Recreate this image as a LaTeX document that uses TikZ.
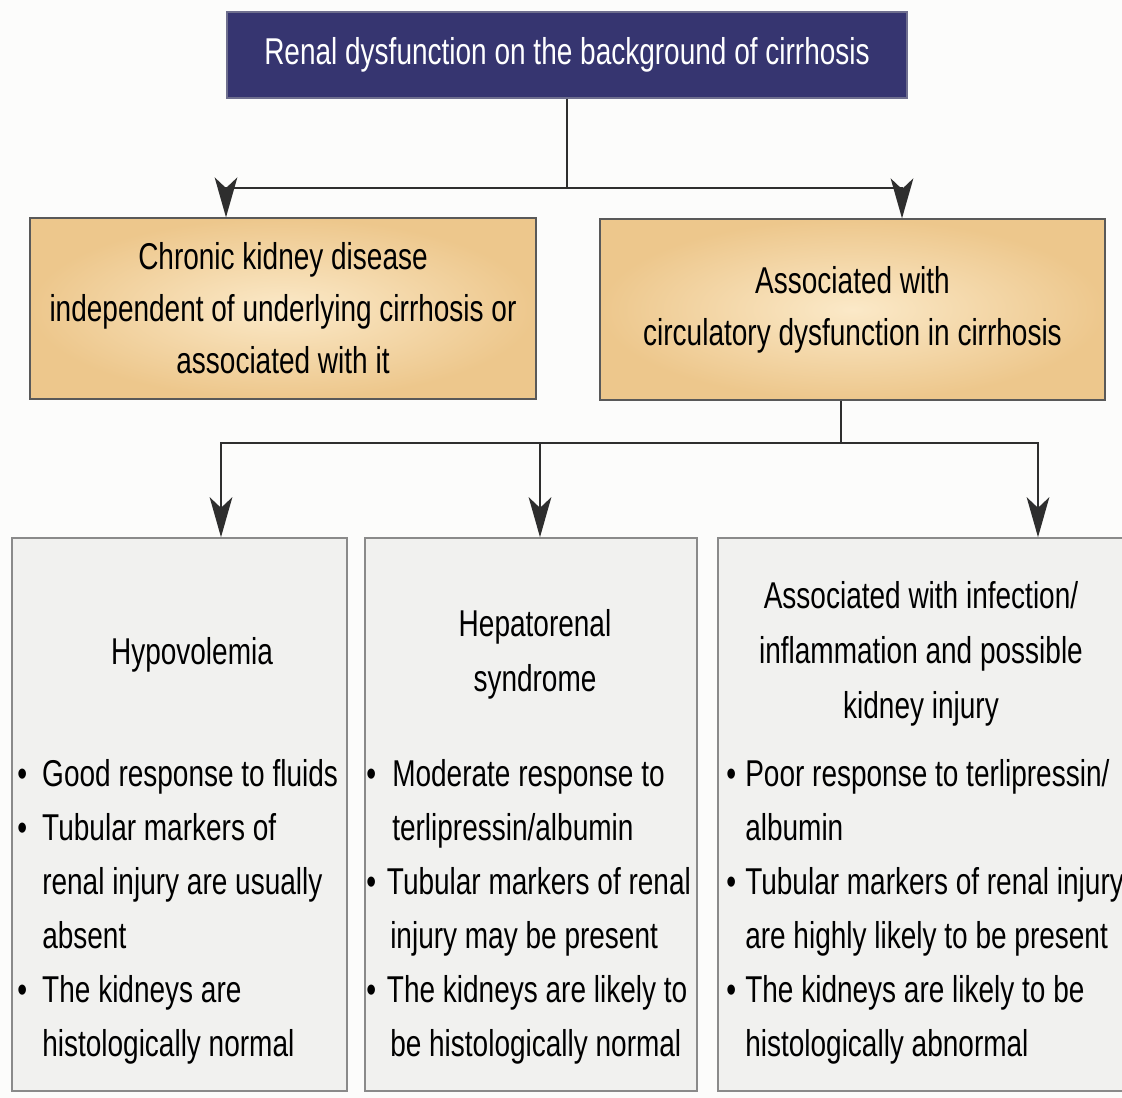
\documentclass[tikz,border=0pt]{standalone}
\usepackage{fontspec}
\setmainfont{Liberation Sans}[FakeStretch=0.75]
\usetikzlibrary{arrows.meta,calc}
\definecolor{navy}{HTML}{363570}
\definecolor{navyedge}{HTML}{6F6F8E}
\definecolor{tanin}{HTML}{FBE9C8}
\definecolor{tanout}{HTML}{EDC78C}
\definecolor{boxgrey}{HTML}{F1F1EF}
\definecolor{boxedge}{HTML}{8A8A8A}
\definecolor{linegrey}{HTML}{2E2E2E}
\definecolor{paper}{HTML}{FCFCFB}
\newcommand\bi[1]{\makebox[#1][l]{\textbullet}}
\newcommand\bc[1]{\hspace*{#1}}
\begin{document}
\begin{tikzpicture}[x=0.75pt,y=-0.75pt,
  topbox/.style={draw=navyedge, line width=1pt, fill=navy, text=white, inner sep=0pt,
    font=\fontsize{28}{34}\selectfont},
  tanbox/.style={draw=black!65, line width=0.9pt, shading=radial, inner color=tanin,
    outer color=tanout, align=center, inner sep=0pt, font=\fontsize{28}{39}\selectfont},
  greybox/.style={draw=boxedge, line width=1.2pt, fill=boxgrey, inner sep=0pt},
  head/.style={align=center, inner sep=0pt, font=\fontsize{28}{41.25}\selectfont},
  bullets/.style={anchor=base west, inner sep=0pt, font=\fontsize{28}{40.5}\selectfont},
  conn/.style={draw=linegrey, line width=1.5pt},
  arr/.style={conn, -{Stealth[length=30pt,width=17pt,inset=8pt]}}]
\fill[paper] (0,0) rectangle (1122,1098);
\useasboundingbox (0,0) rectangle (1122,1098);

\node[topbox, minimum width=510pt, minimum height=64.5pt] (top) at (567,55)
  {Renal dysfunction on the background of cirrhosis};

\node[tanbox, minimum width=379.5pt, minimum height=135.75pt] (ckd) at (283,308.5)
  {Chronic kidney disease\\independent of underlying cirrhosis or\\associated with it};
\node[tanbox, minimum width=378.75pt, minimum height=135.75pt] (assoc) at (852.5,309.5)
  {Associated with\\circulatory dysfunction in cirrhosis};

\node[greybox, minimum width=251.25pt, minimum height=414.75pt] (b1) at (179.5,814.5) {};
\node[greybox, minimum width=249pt, minimum height=414.75pt] (b2) at (531,814.5) {};
\node[greybox, minimum width=316.5pt, minimum height=414.75pt] (b3) at (929,814.5) {};

\node[head] (h1) at (192,655) {Hypovolemia};
\node[head] (h2) at (535,654) {Hepatorenal\\syndrome};
\node[head] (h3) at (921,654) {Associated with infection/\\inflammation and possible\\kidney injury};

\node[bullets] (l1) at (17,786) {\begin{tabular}[t]{@{}l@{}}
\bi{18.75pt}Good response to fluids\\
\bi{18.75pt}Tubular markers of\\
\bc{18.75pt}renal injury are usually\\
\bc{18.75pt}absent\\
\bi{18.75pt}The kidneys are\\
\bc{18.75pt}histologically normal
\end{tabular}};
\node[bullets] (l2) at (366,786) {\begin{tabular}[t]{@{}l@{}}
\bi{19.5pt}Moderate response to\\
\bc{19.5pt}terlipressin/albumin\\
\bi{15.5pt}Tubular markers of renal\\
\bc{18pt}injury may be present\\
\bi{15.5pt}The kidneys are likely to\\
\bc{18pt}be histologically normal
\end{tabular}};
\node[bullets] (l3) at (726,786) {\begin{tabular}[t]{@{}l@{}}
\bi{14.25pt}Poor response to terlipressin/\\
\bc{14.25pt}albumin\\
\bi{14.25pt}Tubular markers of renal injury\\
\bc{14.25pt}are highly likely to be present\\
\bi{14.25pt}The kidneys are likely to be\\
\bc{14.25pt}histologically abnormal
\end{tabular}};

\coordinate (a1) at (226,188);
\coordinate (a2) at (902,188);
\draw[arr] (top.south) |- (a1) -- (a1 |- ckd.north);
\draw[arr] (top.south) |- (a2) -- (a2 |- assoc.north);

\coordinate (j) at (841,443);
\coordinate (c1) at (221,443);
\coordinate (c2) at (540,443);
\coordinate (c3) at (1038,443);
\draw[conn] (j |- assoc.south) -- (j);
\draw[arr] (j) -- (c1) -- (c1 |- b1.north);
\draw[arr] (c2) -- (c2 |- b2.north);
\draw[arr] (j) -- (c3) -- (c3 |- b3.north);
\end{tikzpicture}
\end{document}
